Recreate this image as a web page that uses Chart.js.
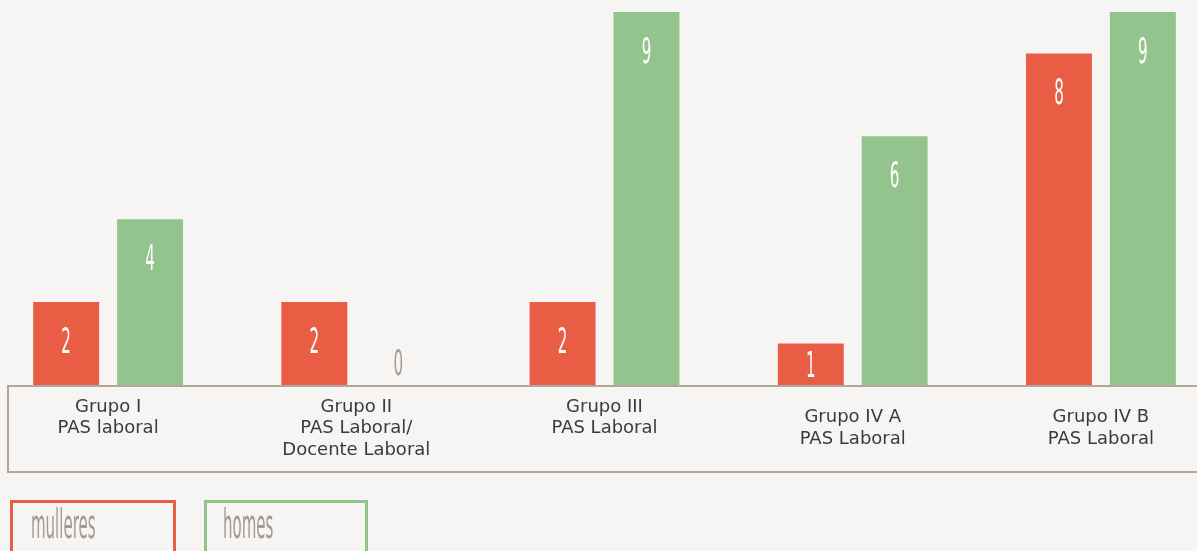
<!DOCTYPE html>
<html>
<head>
<meta charset="utf-8">
<script src="https://cdn.jsdelivr.net/npm/chart.js@4"></script>
<style>
    html, body { margin: 0; padding: 0; background: #f6f5f3; overflow: hidden; width: 1197px; height: 551px; position: relative; }
    #wrap { position: absolute; left: -16px; top: 0; width: 1241px; height: 551px; }
    .legendBox { position: absolute; top: 500px; height: 60px; box-sizing: border-box; border: 3px solid; }
    .legendText { position: absolute; top: 504px; font: 40px "DejaVu Sans"; line-height: 40px; color: #a59a90;
        transform: scaleX(0.375); transform-origin: left top; white-space: nowrap; }
</style>
</head>
<body>
<div id="wrap"><canvas id="barChart"></canvas></div>
<div id="legend"></div>
<script>
const categories = [
    ["Grupo I", "PAS laboral", ""],
    ["Grupo II", "PAS Laboral/", "Docente Laboral"],
    ["Grupo III", "PAS Laboral", ""],
    ["Grupo IV A", "PAS Laboral"],
    ["Grupo IV B", "PAS Laboral"]
];
const seriesNames = ["mulleres", "homes"];
const mulleres = [2, 2, 2, 1, 8];
const homes = [4, 0, 9, 6, 9];
const seriesColors = ["#e95d45", "#93c48d"];

// box round the category labels
const labelBox = {
    id: "labelBox",
    beforeDatasetsDraw(chart) {
        const ctx = chart.ctx;
        ctx.save();
        ctx.strokeStyle = "#b3a69c";
        ctx.lineWidth = 2;
        ctx.strokeRect(24, chart.chartArea.bottom + 1, chart.width, 86);
        ctx.restore();
    }
};

// narrow numbers inside the bars
const valueLabels = {
    id: "valueLabels",
    afterDatasetsDraw(chart) {
        const ctx = chart.ctx;
        chart.data.datasets.forEach((ds, i) => {
            chart.getDatasetMeta(i).data.forEach((bar, j) => {
                const v = ds.data[j];
                const h = bar.base - bar.y;
                let y = bar.y + Math.min(38, h / 2);
                let color = "#ffffff";
                if (v === 0) {
                    y = bar.base - 23;
                    color = "#a89c92";
                }
                ctx.save();
                ctx.translate(bar.x, y + 13);
                ctx.scale(0.42, 1);
                ctx.font = '36px "DejaVu Sans"';
                ctx.textAlign = "center";
                ctx.textBaseline = "alphabetic";
                ctx.fillStyle = color;
                ctx.fillText(String(v), 0, 0);
                ctx.restore();
            });
        });
    }
};

const chart = new Chart("barChart", {
    type: "bar",
    data: {
        labels: categories,
        datasets: [
            { label: seriesNames[0], data: mulleres, backgroundColor: seriesColors[0] },
            { label: seriesNames[1], data: homes, backgroundColor: seriesColors[1] }
        ]
    },
    options: {
        animation: false,
        responsive: true,
        maintainAspectRatio: false,
        categoryPercentage: 0.676,
        barPercentage: 0.786,
        layout: { padding: { top: 12, left: 0, right: 0, bottom: 0 } },
        plugins: { legend: { display: false }, tooltip: { enabled: false } },
        scales: {
            y: { display: false, min: 0, max: 9 },
            x: {
                grid: { display: false },
                border: { display: false },
                ticks: {
                    autoSkip: false,
                    maxRotation: 0,
                    padding: 14,
                    crossAlign: "center",
                    color: "#3b3b3b",
                    font: { family: "DejaVu Sans", size: 18, lineHeight: 1.2 }
                },
                afterFit(scale) { scale.height = 166; }
            }
        }
    },
    plugins: [labelBox, valueLabels]
});

const legend = document.getElementById("legend");
const boxLeft = [10, 204];
const boxWidth = [166, 164];
seriesNames.forEach((name, i) => {
    const box = document.createElement("div");
    box.className = "legendBox";
    box.style.left = boxLeft[i] + "px";
    box.style.width = boxWidth[i] + "px";
    box.style.borderColor = seriesColors[i];
    legend.appendChild(box);
    const txt = document.createElement("div");
    txt.className = "legendText";
    txt.style.left = (boxLeft[i] + 21 - (i ? 2 : 0)) + "px";
    txt.textContent = name;
    legend.appendChild(txt);
});
</script>
</body>
</html>
